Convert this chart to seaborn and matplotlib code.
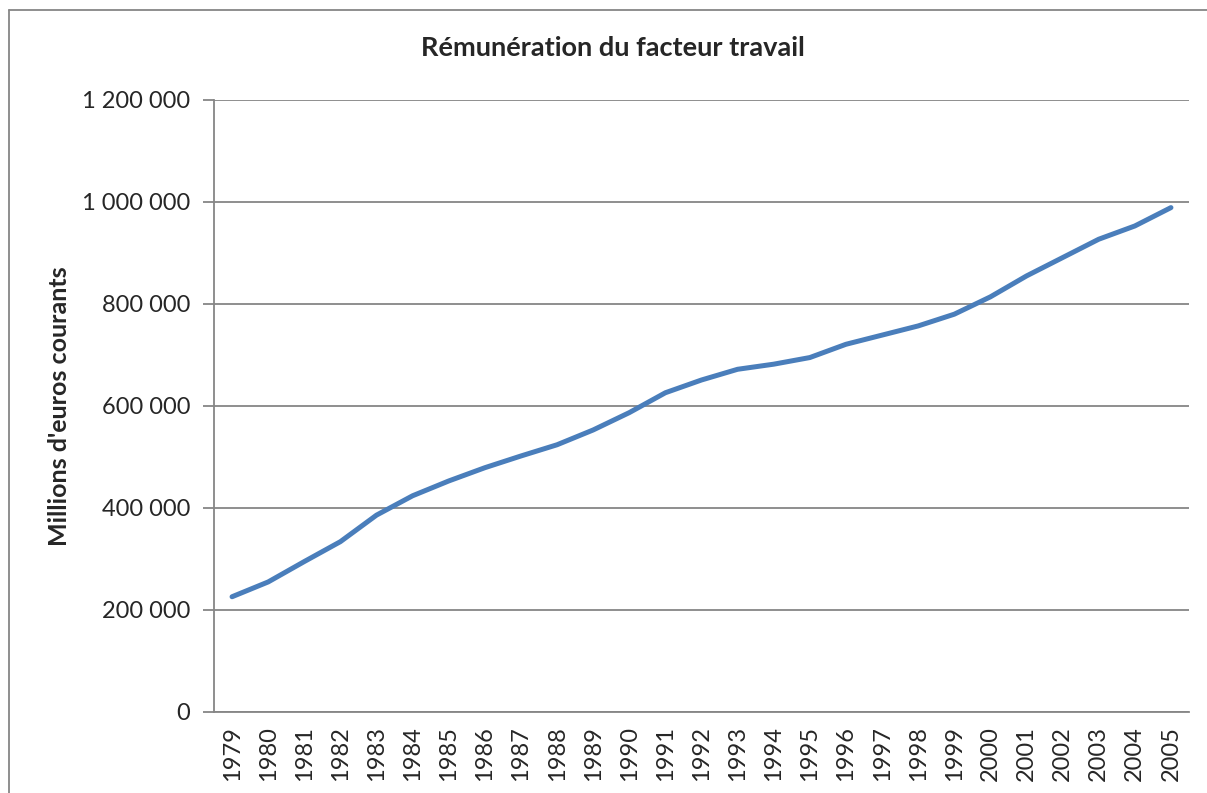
import matplotlib
matplotlib.use('Agg')
import matplotlib.pyplot as plt
import seaborn as sns
import numpy as np
import pandas as pd
from matplotlib.lines import Line2D
from matplotlib.ticker import FuncFormatter

# Data (millions d'euros courants)
years = list(range(1979, 2006))
remuneration = [226000, 255000, 295000, 334000, 386000, 424000, 453000, 479000,
                502000, 524000, 553000, 587000, 626000, 651000, 672000, 682000,
                695000, 721000, 739000, 757000, 780000, 814000, 855000, 891000,
                927000, 953000, 989000]

df = pd.DataFrame({'annee': years, 'valeur': remuneration})

sns.set_style('white')
plt.rcParams['font.family'] = ['Lato', 'DejaVu Sans']

W, H = 1207, 793
fig = plt.figure(figsize=(W / 100, H / 100), dpi=100)
ax = fig.add_axes([214 / W, (H - 712) / H, (1189 - 214) / W, (712 - 100) / H])

sns.lineplot(data=df, x='annee', y='valeur', ax=ax, color='#4a7ebb',
             linewidth=3.6, solid_capstyle='round')

grid_col = '#868686'
ax.set_ylim(0, 1200000)
ax.set_yticks(np.arange(0, 1200001, 200000))
ax.yaxis.set_major_formatter(FuncFormatter(lambda v, p: f"{int(v):,}".replace(',', ' ')))
ax.grid(axis='y', color=grid_col, linewidth=1.3)
ax.set_axisbelow(True)

ax.set_xlim(years[0] - 0.5, years[-1] + 0.5)
ax.set_xticks(years)
ax.set_xticklabels([str(y) for y in years], rotation=90)
ax.set_xticks(np.arange(years[0] - 0.5, years[-1] + 1.0, 1.0), minor=True)
ax.tick_params(axis='x', which='major', length=0, labelsize=17, pad=10)
ax.tick_params(axis='x', which='minor', length=8, width=1.3, color=grid_col)
ax.tick_params(axis='y', length=8, width=1.3, color=grid_col, labelsize=17, pad=9,
               left=True)

for s in ['top', 'right']:
    ax.spines[s].set_visible(False)
for s in ['left', 'bottom']:
    ax.spines[s].set_color(grid_col)
    ax.spines[s].set_linewidth(1.3)

ax.set_xlabel('')
ax.set_ylabel("Millions d'euros courants", fontsize=18, fontweight='bold', labelpad=8)
fig.text(613 / W, 1 - 48 / H, 'Rémunération du facteur travail', ha='center',
         va='center', fontsize=19.5, fontweight='bold')

# chart area border (top and left edges visible)
fig.add_artist(Line2D([9 / W, 1.0], [1 - 10 / H, 1 - 10 / H], color='#868686', linewidth=1.3))
fig.add_artist(Line2D([9 / W, 9 / W], [0.0, 1 - 10 / H], color='#868686', linewidth=1.3))

fig.savefig('out.png', dpi=100)
